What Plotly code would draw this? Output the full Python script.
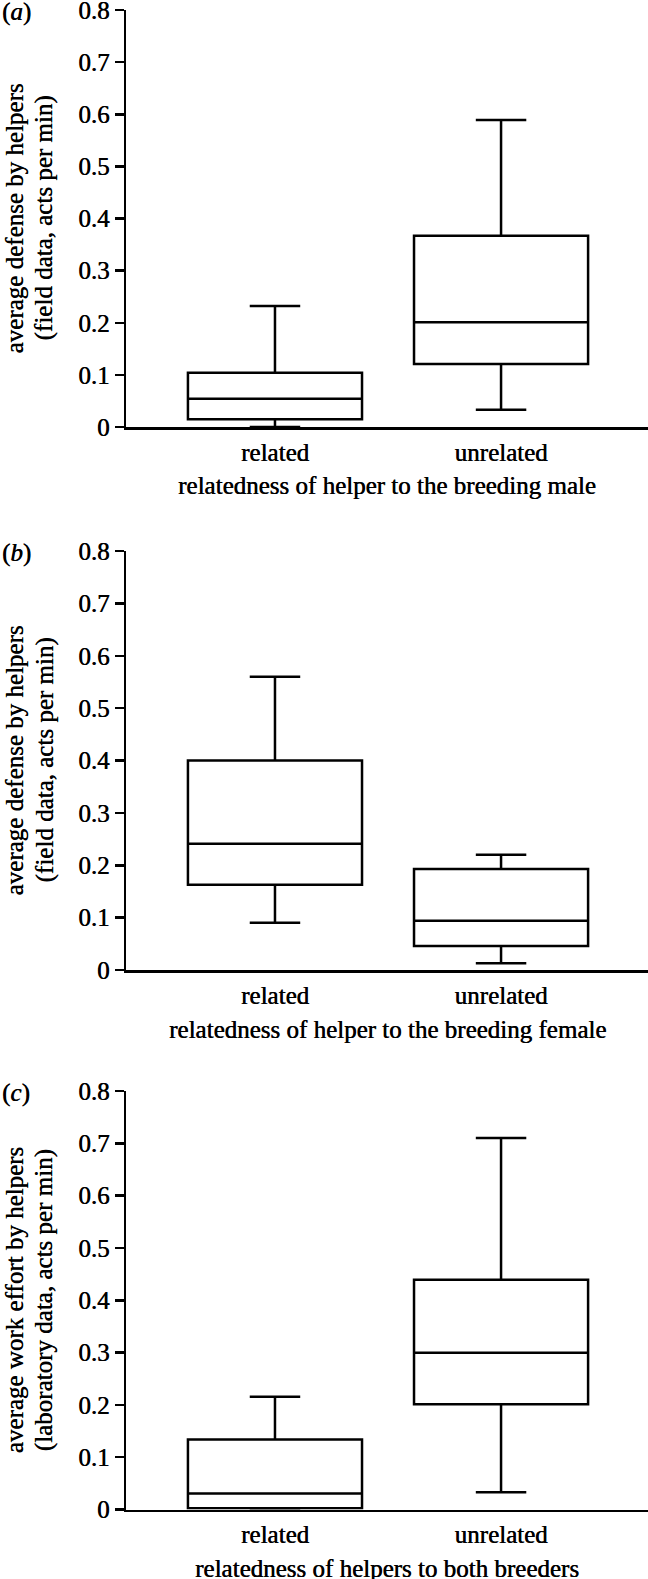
import plotly.graph_objects as go

W, H = 648, 1579
FONT = "'Liberation Serif', 'Times New Roman', Times, 'DejaVu Serif', serif"
FS = 25
SHADOW = "0.5px 0px 0px black"
LW = 2.5

categories = ["related", "unrelated"]

# panel (a): defense vs relatedness to breeding male
a_lower = [0.0, 0.033]
a_q1 = [0.015, 0.121]
a_median = [0.054, 0.201]
a_q3 = [0.104, 0.367]
a_upper = [0.232, 0.589]

# panel (b): defense vs relatedness to breeding female
b_lower = [0.090, 0.013]
b_q1 = [0.163, 0.046]
b_median = [0.241, 0.094]
b_q3 = [0.400, 0.193]
b_upper = [0.560, 0.220]

# panel (c): work effort vs relatedness to both breeders
c_lower = [0.0, 0.033]
c_q1 = [0.0025, 0.201]
c_median = [0.0305, 0.2995]
c_q3 = [0.134, 0.439]
c_upper = [0.2156, 0.710]

y_tickvals = [0, 0.1, 0.2, 0.3, 0.4, 0.5, 0.6, 0.7, 0.8]
y_ticktext = ["0", "0.1", "0.2", "0.3", "0.4", "0.5", "0.6", "0.7", "0.8"]

panel_labels = ["(<i>a</i>)", "(<i>b</i>)", "(<i>c</i>)"]
x_titles = ["relatedness of helper to the breeding male",
            "relatedness of helper to the breeding female",
            "relatedness of helpers to both breeders"]
y_titles_1 = ["average defense by helpers",
              "average defense by helpers",
              "average work effort by helpers"]
y_titles_2 = ["(field data, acts per min)",
              "(field data, acts per min)",
              "(laboratory data, acts per min)"]

panels = [
    (a_lower, a_q1, a_median, a_q3, a_upper),
    (b_lower, b_q1, b_median, b_q3, b_upper),
    (c_lower, c_q1, c_median, c_q3, c_upper),
]

# pixel layout (top, bottom) of each plot area
px_rows = [(10, 427), (551, 970), (1091, 1509.5)]
x_left_px = 126

def fnt():
    return dict(family=FONT, size=FS, color="black", shadow=SHADOW)

fig = go.Figure()
layout = dict(
    template="none",
    width=W, height=H,
    margin=dict(l=0, r=0, t=0, b=0, pad=0),
    paper_bgcolor="white", plot_bgcolor="white",
    showlegend=False,
    font=fnt(),
)
annotations = []

for i, (lo, q1, med, q3, up) in enumerate(panels):
    n = "" if i == 0 else str(i + 1)
    fig.add_trace(go.Box(
        x=categories, lowerfence=lo, q1=q1, median=med, q3=q3, upperfence=up,
        boxpoints=False, width=0.77, whiskerwidth=0.29,
        line=dict(color="black", width=LW), fillcolor="white",
        xaxis="x" + n, yaxis="y" + n, hoverinfo="skip",
    ))
    top, bot = px_rows[i]
    d0 = 1 - bot / H
    d1 = 1 - top / H
    layout["xaxis" + n] = dict(
        domain=[x_left_px / W, 1.0], anchor="y" + n, type="category",
        range=[-0.659, 1.650], showline=True, linecolor="black", linewidth=LW,
        ticks="", showgrid=False, zeroline=False, automargin=False,
        tickfont=fnt(), ticklabelstandoff=1, ticklabeloverflow="allow",
    )
    layout["yaxis" + n] = dict(
        domain=[d0, d1], anchor="x" + n, range=[0, 0.8],
        tickvals=y_tickvals, ticktext=y_ticktext,
        showline=True, linecolor="black", linewidth=LW,
        ticks="outside", ticklen=9, tickwidth=LW, tickcolor="black",
        showgrid=False, zeroline=False, automargin=False,
        tickfont=fnt(), ticklabeloverflow="allow",
    )
    annotations.append(dict(
        text=panel_labels[i], xref="paper", yref="paper", x=0, y=d1,
        xanchor="left", yanchor="middle", yshift=-2, showarrow=False, font=fnt(),
    ))
    annotations.append(dict(
        text=x_titles[i], xref="paper", yref="paper",
        x=(x_left_px / W + 1) / 2, y=d0, yshift=-59,
        xanchor="center", yanchor="middle", showarrow=False, font=fnt(),
    ))
    for xc, txt in ((14, y_titles_1[i]), (44, y_titles_2[i])):
        annotations.append(dict(
            text=txt, xref="paper", yref="paper",
            x=xc / W, y=(d0 + d1) / 2, textangle=-90,
            xanchor="center", yanchor="middle", showarrow=False, font=fnt(),
        ))

layout["annotations"] = annotations
fig.update_layout(**layout)
fig.write_html(
    "out.html",
    config={"displayModeBar": False, "staticPlot": True},
    post_script="document.body.style.margin='0';document.body.style.overflow='hidden';",
)
